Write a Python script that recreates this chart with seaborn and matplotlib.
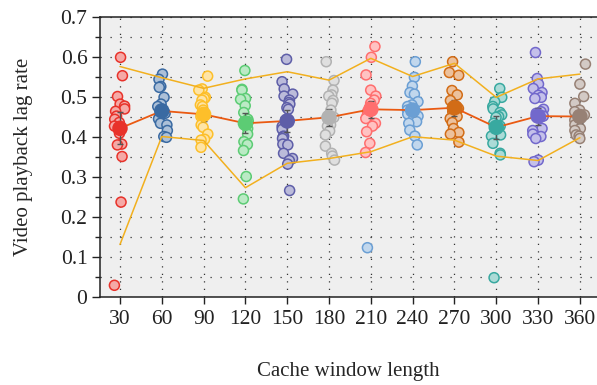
import numpy as np
import pandas as pd
import matplotlib.pyplot as plt
import seaborn as sns
from matplotlib.ticker import MultipleLocator

# cache window lengths (categories)
windows = [30, 60, 90, 120, 150, 180, 210, 240, 270, 300, 330, 360]

# per-window lag rates
v30 = [0.600, 0.554, 0.502, 0.483, 0.478, 0.471, 0.465, 0.453, 0.445, 0.437, 0.428,
       0.410, 0.383, 0.381, 0.352, 0.238, 0.030]
v60 = [0.558, 0.545, 0.527, 0.525, 0.500, 0.483, 0.477, 0.470, 0.460, 0.452, 0.446,
       0.435, 0.431, 0.417, 0.402, 0.400]
v90 = [0.553, 0.521, 0.518, 0.500, 0.497, 0.493, 0.481, 0.477, 0.468, 0.452, 0.431,
       0.425, 0.408, 0.395, 0.393, 0.375]
v120 = [0.567, 0.520, 0.518, 0.497, 0.495, 0.479, 0.462, 0.445, 0.439, 0.422, 0.408,
        0.389, 0.382, 0.367, 0.302, 0.246]
v150 = [0.595, 0.539, 0.521, 0.508, 0.503, 0.493, 0.487, 0.483, 0.474, 0.470, 0.427,
        0.420, 0.403, 0.401, 0.397, 0.383, 0.381, 0.360, 0.347, 0.342, 0.333, 0.267]
v180 = [0.589, 0.542, 0.518, 0.506, 0.503, 0.492, 0.485, 0.468, 0.450, 0.431, 0.428,
        0.416, 0.406, 0.378, 0.360, 0.353, 0.343]
v210 = [0.627, 0.600, 0.556, 0.518, 0.503, 0.493, 0.485, 0.477, 0.464, 0.453, 0.447,
        0.435, 0.428, 0.414, 0.385, 0.362]
v240 = [0.589, 0.550, 0.528, 0.512, 0.508, 0.489, 0.481, 0.477, 0.468, 0.458, 0.453,
        0.443, 0.439, 0.435, 0.418, 0.403, 0.381]
v270 = [0.589, 0.562, 0.555, 0.517, 0.506, 0.492, 0.477, 0.472, 0.470, 0.464, 0.452,
        0.447, 0.437, 0.422, 0.412, 0.408, 0.388]
v300 = [0.522, 0.500, 0.489, 0.477, 0.471, 0.462, 0.456, 0.452, 0.450, 0.435, 0.428,
        0.406, 0.403, 0.385, 0.360, 0.356, 0.049]
v330 = [0.612, 0.547, 0.533, 0.522, 0.512, 0.505, 0.500, 0.497, 0.470, 0.464, 0.460,
        0.453, 0.450, 0.422, 0.417, 0.408, 0.402, 0.397, 0.343, 0.339]
v360 = [0.583, 0.533, 0.502, 0.485, 0.468, 0.464, 0.456, 0.453, 0.443, 0.431, 0.422,
        0.417, 0.406, 0.403, 0.397]
# stray point drawn in the 240 colour at window 210
stray_window = 210
stray_group = 240
stray_value = 0.124

means = [0.4225, 0.466, 0.4575, 0.435, 0.441, 0.450, 0.470, 0.468, 0.474, 0.425, 0.453, 0.452]
errs = [0.040, 0.012, 0.016, 0.025, 0.027, 0.022, 0.021, 0.015, 0.020, 0.028, 0.021, 0.015]
upper = [0.577, 0.549, 0.5225, 0.546, 0.564, 0.543, 0.5975, 0.552, 0.585, 0.500, 0.546, 0.558]
lower = [0.132, 0.402, 0.392, 0.274, 0.335, 0.347, 0.364, 0.4015, 0.393, 0.353, 0.342, 0.399]

yticks = [0, 0.1, 0.2, 0.3, 0.4, 0.5, 0.6, 0.7]
ytick_labels = ['0', '0.1', '0.2', '0.3', '0.4', '0.5', '0.6', '0.7']

colors = ['#e8322a', '#3a6aa2', '#fdbf2a', '#5ccc74', '#5e5ea8', '#b2b2b2',
          '#ff6e6e', '#6b9fd4', '#d26c16', '#38a9a0', '#7268cc', '#978175']

all_values = [v30, v60, v90, v120, v150, v180, v210, v240, v270, v300, v330, v360]
rows = []
for w, vals in zip(windows, all_values):
    for v in vals:
        rows.append({'window': w, 'group': w, 'lag': v})
rows.append({'window': stray_window, 'group': stray_group, 'lag': stray_value})
df = pd.DataFrame(rows)

sns.set_style('ticks')
plt.rcParams['font.family'] = ['Liberation Serif', 'DejaVu Serif']
plt.rcParams['text.color'] = '#222222'
plt.rcParams['xtick.color'] = '#222222'
plt.rcParams['ytick.color'] = '#222222'

fig = plt.figure(figsize=(5.97, 3.85), dpi=100)
ax = fig.add_axes([0.1675, 0.2278, 0.8325, 0.7272])
ax.set_facecolor('#efefef')

np.random.seed(3)
palette = dict(zip(windows, colors))
sns.stripplot(data=df, x='window', y='lag', hue='group', order=windows,
              hue_order=windows, palette=palette, jitter=0.14, size=7.2,
              linewidth=1.1, legend=False, ax=ax, zorder=3)

# open-looking circles: saturated edge, pale fill
for coll in ax.collections:
    fcs = coll.get_facecolors()
    if len(fcs) == 0:
        continue
    edge = fcs.copy()
    edge[:, 3] = 1.0
    face = fcs.copy()
    face[:, :3] = 1 - (1 - fcs[:, :3]) * 0.42
    face[:, 3] = 1.0
    coll.set_edgecolors(edge)
    coll.set_facecolors(face)

xs = np.arange(len(windows))
ax.plot(xs, upper, color='#f2b01e', lw=1.1, zorder=4)
ax.plot(xs, lower, color='#f2b01e', lw=1.1, zorder=4)
ax.plot(xs, means, color='#ea5a12', lw=1.3, zorder=5)
ax.errorbar(xs, means, yerr=errs, fmt='none', ecolor='#555555', elinewidth=1.0,
            capsize=2.5, capthick=1.0, zorder=6)
for x, m, c in zip(xs, means, colors):
    ax.scatter(x, m, s=125, color=c, edgecolor='none', zorder=7)

ax.set_xlim(-0.478, 11.41)
ax.set_ylim(0, 0.7)
ax.set_yticks(yticks)
ax.set_yticklabels(ytick_labels)
ax.yaxis.set_minor_locator(MultipleLocator(0.05))

ax.yaxis.grid(True, which='both', color='#333333', linestyle=(0, (1, 7)), linewidth=0.9)
ax.xaxis.grid(True, color='#333333', linestyle=(0, (1, 5)), linewidth=0.9)
ax.set_axisbelow(True)

for s in ['left', 'bottom', 'top']:
    ax.spines[s].set_color('#222222')
    ax.spines[s].set_linewidth(1.1)
ax.spines['right'].set_visible(False)

ax.tick_params(axis='y', which='major', length=6, width=1, labelsize=15.5, pad=3)
ax.tick_params(axis='y', which='minor', length=3.5, width=1)
ax.tick_params(axis='x', length=5, width=1, labelsize=15.5, pad=4)

ax.set_xlabel('Cache window length', fontsize=15, labelpad=24)
ax.set_ylabel('Video playback lag rate', fontsize=15, labelpad=20)

fig.savefig('out.png', dpi=100)
